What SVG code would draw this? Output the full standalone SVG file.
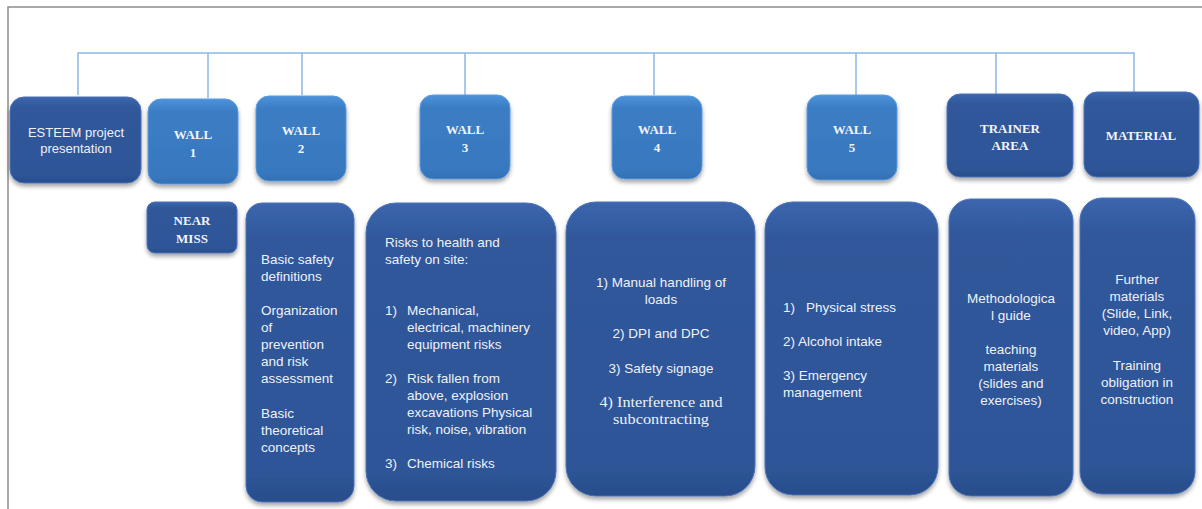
<svg xmlns="http://www.w3.org/2000/svg" width="1202" height="509" viewBox="0 0 1202 509">
<style>
.frame{fill:none;stroke:#8c8c8c;stroke-width:1.5}
.conn{fill:none;stroke:#8db6e6;stroke-width:1.5}
.dark{fill:url(#gDark);stroke:#4a72b8;stroke-width:1;filter:url(#sh)}
.light{fill:url(#gLight);stroke:#5a9be0;stroke-width:1;filter:url(#sh)}
.title{font-family:"Liberation Serif",serif;font-weight:bold;font-size:13px;fill:#f2f4f8;text-anchor:middle}
.body{font-family:"Liberation Sans",Arial,sans-serif;font-size:13.5px;fill:#eef1f7}
.mid{text-anchor:middle}
.serif{font-family:"Liberation Serif",serif;font-size:14px;fill:#eef1f7;text-anchor:middle}
</style>
<defs>
<linearGradient id="gDark" x1="0" y1="0" x2="0" y2="1">
<stop offset="0" stop-color="#3d66ad"/>
<stop offset="0.12" stop-color="#30589b"/>
<stop offset="0.9" stop-color="#2e5597"/>
<stop offset="1" stop-color="#294d8b"/>
</linearGradient>
<linearGradient id="gLight" x1="0" y1="0" x2="0" y2="1">
<stop offset="0" stop-color="#4c92da"/>
<stop offset="0.15" stop-color="#3b7dc4"/>
<stop offset="0.9" stop-color="#3878bf"/>
<stop offset="1" stop-color="#336fb2"/>
</linearGradient>
<filter id="sh" x="-10%" y="-10%" width="120%" height="125%">
<feDropShadow dx="0" dy="3" stdDeviation="2" flood-color="#000" flood-opacity="0.35"/>
</filter>
</defs>
<path class="frame" d="M8 509 V7 H1202"/>
<g id="connectors">
<path class="conn" d="M78 95 V53 H1134 V92"/>
<path class="conn" d="M208 53 V98"/>
<path class="conn" d="M302 53 V95"/>
<path class="conn" d="M465 53 V95"/>
<path class="conn" d="M654 53 V95"/>
<path class="conn" d="M856 53 V95"/>
<path class="conn" d="M996 53 V94"/>
</g>
<g id="esteem">
<rect class="dark" x="10" y="97" width="131" height="86" rx="14"/>
<text class="body mid" style="font-size:13px" x="76" y="137">ESTEEM project</text>
<text class="body mid" style="font-size:13px" x="76" y="153">presentation</text>
</g>
<g id="wall1">
<rect class="light" x="148" y="99" width="90" height="85" rx="13"/>
<text class="title" x="193" y="139">WALL</text>
<text class="title" x="193" y="156.5">1</text>
</g>
<g id="wall2">
<rect class="light" x="256" y="96" width="90" height="85" rx="13"/>
<text class="title" x="301" y="135">WALL</text>
<text class="title" x="301" y="152.5">2</text>
</g>
<g id="wall3">
<rect class="light" x="420" y="95" width="90" height="84" rx="13"/>
<text class="title" x="465" y="134">WALL</text>
<text class="title" x="465" y="152">3</text>
</g>
<g id="wall4">
<rect class="light" x="612" y="96" width="90" height="83" rx="13"/>
<text class="title" x="657" y="134">WALL</text>
<text class="title" x="657" y="152">4</text>
</g>
<g id="wall5">
<rect class="light" x="807" y="95" width="90" height="85" rx="13"/>
<text class="title" x="852" y="134">WALL</text>
<text class="title" x="852" y="152">5</text>
</g>
<g id="trainer">
<rect class="dark" x="947" y="94" width="126" height="83" rx="13"/>
<text class="title" x="1010" y="132.5">TRAINER</text>
<text class="title" x="1010" y="150">AREA</text>
</g>
<g id="material">
<rect class="dark" x="1084" y="92" width="115" height="85" rx="13"/>
<text class="title" x="1141" y="140">MATERIAL</text>
</g>
<g id="nearmiss">
<rect class="dark" x="147" y="202" width="90" height="51" rx="8"/>
<text class="title" x="192" y="225">NEAR</text>
<text class="title" x="192" y="242.5">MISS</text>
</g>
<g id="wall2-content">
<rect class="dark" x="246" y="203" width="108" height="299" rx="16"/>
<text class="body" x="261" y="264">Basic safety</text>
<text class="body" x="261" y="281">definitions</text>
<text class="body" x="261" y="315">Organization</text>
<text class="body" x="261" y="332">of</text>
<text class="body" x="261" y="349">prevention</text>
<text class="body" x="261" y="366">and risk</text>
<text class="body" x="261" y="383">assessment</text>
<text class="body" x="261" y="418">Basic</text>
<text class="body" x="261" y="435">theoretical</text>
<text class="body" x="261" y="452">concepts</text>
</g>
<g id="wall3-content">
<rect class="dark" x="366" y="203" width="190" height="298" rx="30"/>
<text class="body" x="385" y="247">Risks to health and</text>
<text class="body" x="385" y="264">safety on site:</text>
<text class="body" x="385" y="315">1)</text>
<text class="body" x="407" y="315">Mechanical,</text>
<text class="body" x="407" y="332">electrical, machinery</text>
<text class="body" x="407" y="349">equipment risks</text>
<text class="body" x="385" y="383">2)</text>
<text class="body" x="407" y="383">Risk fallen from</text>
<text class="body" x="407" y="400">above, explosion</text>
<text class="body" x="407" y="417">excavations Physical</text>
<text class="body" x="407" y="434">risk, noise, vibration</text>
<text class="body" x="385" y="468">3)</text>
<text class="body" x="407" y="468">Chemical risks</text>
</g>
<g id="wall4-content">
<rect class="dark" x="566" y="202" width="189" height="294" rx="30"/>
<text class="body mid" x="661" y="287">1) Manual handling of</text>
<text class="body mid" x="661" y="304">loads</text>
<text class="body mid" x="661" y="338">2) DPI and DPC</text>
<text class="body mid" x="661" y="373">3) Safety signage</text>
<text class="serif" x="661" y="407" textLength="123" lengthAdjust="spacingAndGlyphs">4) Interference and</text>
<text class="serif" x="661" y="424" textLength="96" lengthAdjust="spacingAndGlyphs">subcontracting</text>
</g>
<g id="wall5-content">
<rect class="dark" x="765" y="202" width="173" height="293" rx="28"/>
<text class="body" x="783" y="312">1)</text>
<text class="body" x="806" y="312">Physical stress</text>
<text class="body" x="783" y="346">2) Alcohol intake</text>
<text class="body" x="783" y="380">3) Emergency</text>
<text class="body" x="783" y="397">management</text>
</g>
<g id="trainer-content">
<rect class="dark" x="949" y="199" width="124" height="297" rx="22"/>
<text class="body mid" x="1011" y="303">Methodologica</text>
<text class="body mid" x="1011" y="320">l guide</text>
<text class="body mid" x="1011" y="354">teaching</text>
<text class="body mid" x="1011" y="371">materials</text>
<text class="body mid" x="1011" y="388">(slides and</text>
<text class="body mid" x="1011" y="405">exercises)</text>
</g>
<g id="material-content">
<rect class="dark" x="1080" y="198" width="115" height="296" rx="22"/>
<text class="body mid" x="1137" y="284">Further</text>
<text class="body mid" x="1137" y="301">materials</text>
<text class="body mid" x="1137" y="318">(Slide, Link,</text>
<text class="body mid" x="1137" y="335">video, App)</text>
<text class="body mid" x="1137" y="370">Training</text>
<text class="body mid" x="1137" y="387">obligation in</text>
<text class="body mid" x="1137" y="404">construction</text>
</g>
</svg>
